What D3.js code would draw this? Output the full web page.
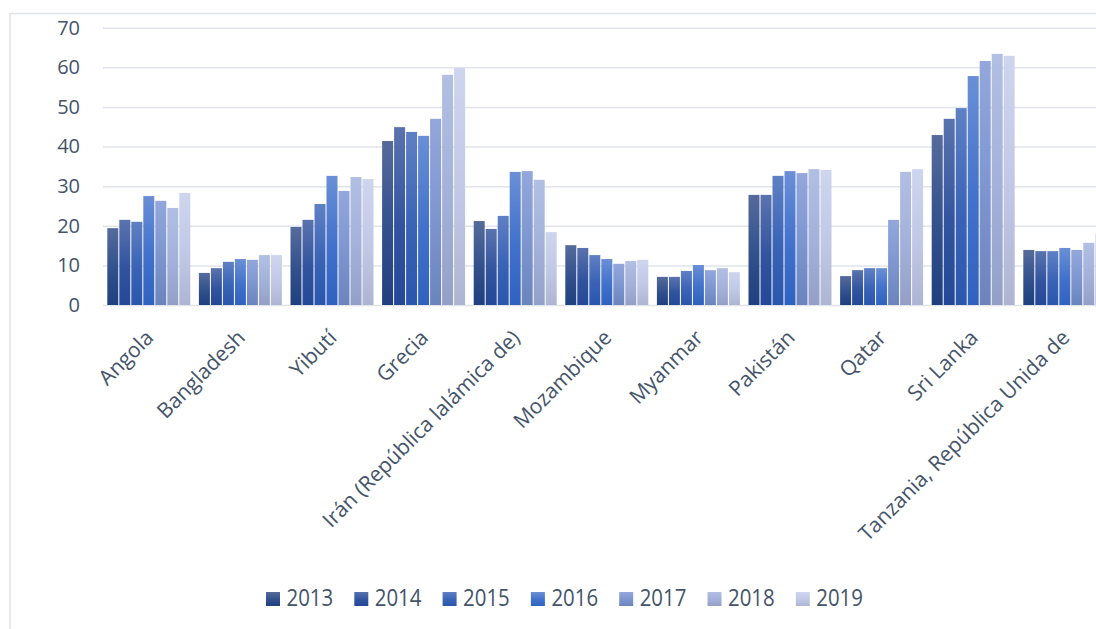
<!DOCTYPE html>
<html>
<head>
<meta charset="utf-8">
<script src="https://cdn.jsdelivr.net/npm/d3@7/dist/d3.min.js"></script>
<style>
  html, body { margin: 0; padding: 0; background: #fff; }
  svg { display: block; }
  text { font-family: "Open Sans", "Noto Sans", sans-serif; fill: #44546a; }
</style>
</head>
<body>
<svg id="chart" width="1096" height="629"></svg>
<script>
const categories = ["Angola", "Bangladesh", "Yibutí", "Grecia", "Irán (República lalámica de)", "Mozambique", "Myanmar", "Pakistán", "Qatar", "Sri Lanka", "Tanzania, República Unida de"];
const years = ["2013", "2014", "2015", "2016", "2017", "2018", "2019"];
const s2013 = [19.4, 8.1, 19.7, 41.4, 21.2, 15.1, 7.1, 27.8, 7.3, 42.9, 13.9];
const s2014 = [21.5, 9.3, 21.5, 44.9, 19.2, 14.4, 7.1, 27.8, 8.8, 47.0, 13.6];
const s2015 = [21.0, 10.9, 25.5, 43.7, 22.5, 12.6, 8.6, 32.6, 9.3, 49.7, 13.6];
const s2016 = [27.5, 11.6, 32.6, 42.7, 33.6, 11.6, 10.1, 33.8, 9.3, 57.8, 14.4];
const s2017 = [26.3, 11.4, 28.8, 47.0, 33.8, 10.4, 8.8, 33.3, 21.5, 61.6, 13.9];
const s2018 = [24.5, 12.6, 32.3, 58.1, 31.6, 11.1, 9.3, 34.3, 33.6, 63.4, 15.7];
const s2019 = [28.3, 12.6, 31.8, 59.8, 18.4, 11.4, 8.3, 34.1, 34.3, 62.9, 17.9];
const seriesValues = [s2013, s2014, s2015, s2016, s2017, s2018, s2019];
const yTicks = [0, 10, 20, 30, 40, 50, 60, 70];

// gradient colours per series: [top, middle, bottom]
const gradColors = [
  ["#566b9c", "#31508c", "#1f3f7e"],
  ["#5a73ae", "#32549f", "#244897"],
  ["#5f80c4", "#3a63b6", "#2a56ad"],
  ["#6a8fd6", "#4171cb", "#2f62bf"],
  ["#93a7dc", "#7d95cf", "#6c84bc"],
  ["#b2bfe3", "#a3b1da", "#939fc6"],
  ["#ced5ee", "#c0c8e6", "#aeb5d3"]
];

const svg = d3.select("#chart");
const W = 1096, H = 629;

// chart frame
svg.append("rect").attr("x", 10).attr("y", 13.5).attr("width", W + 20).attr("height", H + 20)
  .attr("fill", "none").attr("stroke", "#e0e3e8").attr("stroke-width", 1.5);

const defs = svg.append("defs");
gradColors.forEach((c, i) => {
  const g = defs.append("linearGradient").attr("id", "g" + i)
    .attr("x1", 0).attr("y1", 0).attr("x2", 0).attr("y2", 1);
  g.append("stop").attr("offset", "0%").attr("stop-color", c[0]);
  g.append("stop").attr("offset", "55%").attr("stop-color", c[1]);
  g.append("stop").attr("offset", "100%").attr("stop-color", c[2]);
});

const x = d3.scaleBand().domain(categories).range([103, 1110.6]).paddingInner(0.094).paddingOuter(0.047);
const xs = d3.scaleBand().domain(years).range([0, x.bandwidth()]).paddingInner(1 / 12);
const y = d3.scaleLinear().domain([0, 70]).range([305, 27.7]);

// gridlines
const yAxis = d3.axisLeft(y).tickValues(yTicks).tickSize(-(W + 20 - 103)).tickPadding(23).tickFormat(d3.format("d"));
const ga = svg.append("g").attr("transform", "translate(103,0)").call(yAxis);
ga.select(".domain").remove();
ga.selectAll(".tick line").attr("stroke", "#e1e4ea").attr("stroke-width", 1.5);
ga.selectAll(".tick text").attr("font-size", 20).style("fill", "#44546a")
  .attr("font-family", "'Open Sans', sans-serif");

// bars
years.forEach((yr, si) => {
  svg.append("g").selectAll("rect")
    .data(categories.map((c, ci) => ({ c, v: seriesValues[si][ci] })))
    .join("rect")
    .attr("x", d => x(d.c) + xs(yr))
    .attr("y", d => y(d.v))
    .attr("width", xs.bandwidth())
    .attr("height", d => y(0) - y(d.v))
    .attr("fill", "url(#g" + si + ")");
});

// category labels
const lxPos = d => x(d) + x.bandwidth() / 2 + 6;
svg.append("g").selectAll("text").data(categories).join("text")
  .attr("x", d => lxPos(d)).attr("y", 339)
  .attr("transform", d => `rotate(-45, ${lxPos(d)}, 339)`)
  .attr("text-anchor", "end")
  .attr("font-size", 21)
  .text(d => d);

// legend
const lg = d3.scaleBand().domain(years).range([266, 266 + 88.3 * 7]);
const li = svg.append("g").selectAll("g").data(years).join("g")
  .attr("transform", d => `translate(${lg(d)},592)`);
li.append("rect").attr("width", 14).attr("height", 14).attr("fill", (d, i) => `url(#g${i})`);
li.append("text")
  .attr("transform", "translate(20.5,14.3) scale(0.85,1)")
  .attr("font-size", 24)
  .text(d => d);
</script>
</body>
</html>
